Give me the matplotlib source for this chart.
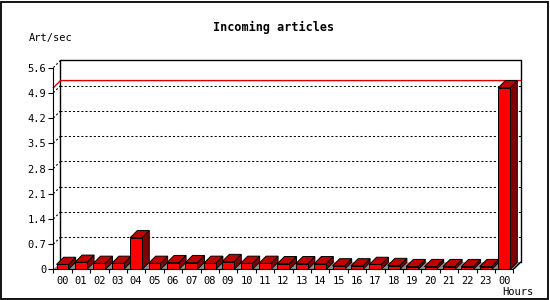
import matplotlib
matplotlib.use("Agg")
import matplotlib.pyplot as plt
from matplotlib.patches import Polygon, Rectangle

hours = ["00", "01", "02", "03", "04", "05", "06", "07", "08", "09", "10", "11",
         "12", "13", "14", "15", "16", "17", "18", "19", "20", "21", "22", "23", "00"]
art_sec = [0.14, 0.20, 0.17, 0.17, 0.88, 0.17, 0.19, 0.19, 0.17, 0.22, 0.17, 0.17,
           0.16, 0.16, 0.16, 0.10, 0.10, 0.14, 0.11, 0.08, 0.08, 0.08, 0.08, 0.08, 5.04]
y_ticks = [0, 0.7, 1.4, 2.1, 2.8, 3.5, 4.2, 4.9, 5.6]

font = "DejaVu Sans Mono"
n = len(hours)
ymax = 5.6
dx, dy = 0.39, 0.2      # depth offset of the 3d look
bw = 0.65               # bar width in slots

fig = plt.figure(figsize=(5.5, 3), dpi=100)
fig.patches.append(Rectangle((0.001, 0.003), 0.995, 0.992, transform=fig.transFigure,
                             fill=False, edgecolor="black", linewidth=1.3))
ax = fig.add_axes([0.0969, 0.1017, 0.8495, 0.697])
ax.set_xlim(0, n + dx)
ax.set_ylim(0, ymax + dy)
ax.patch.set_alpha(0)

# back wall
ax.plot([dx, dx, n + dx, n + dx], [dy, ymax + dy, ymax + dy, dy], color="black", lw=1, clip_on=False, zorder=1)
for v in y_ticks[1:-1]:
    ax.plot([dx, n + dx], [v + dy, v + dy], color="black", lw=0.75, ls=(0, (2, 2)), zorder=1)
for v in y_ticks[1:]:
    ax.plot([0, dx], [v, v + dy], color="black", lw=0.75, ls=(0, (2, 2)), zorder=1, clip_on=False)

# max line
m = max(art_sec)
ax.plot([0, dx, n + dx], [m, m + dy, m + dy], color="#e00000", lw=1, zorder=1.5, clip_on=False)

# floor
ax.add_patch(Polygon([(0, 0), (n, 0), (n + dx, dy), (dx, dy)], closed=True,
                     facecolor="#8c8c8c", edgecolor="none", zorder=2))
ax.plot([n, n + dx], [0, dy], color="black", lw=1, zorder=2.1)

# bars
for i, h in enumerate(art_sec):
    x0 = i + 0.5 - bw / 2
    x1 = x0 + bw
    z = 3 + i * 0.01
    ax.add_patch(Polygon([(x1, 0), (x1 + dx, dy), (x1 + dx, h + dy), (x1, h)], closed=True,
                         facecolor="#800000", edgecolor="black", lw=0.7, zorder=z))
    ax.add_patch(Polygon([(x0, h), (x1, h), (x1 + dx, h + dy), (x0 + dx, h + dy)], closed=True,
                         facecolor="#c00000", edgecolor="black", lw=0.7, zorder=z))
    ax.add_patch(Rectangle((x0, 0), bw, h, facecolor="#ff0000", edgecolor="black", lw=0.7, zorder=z + 0.005))

for s in ["top", "right"]:
    ax.spines[s].set_visible(False)
ax.spines["left"].set_bounds(0, ymax)
ax.spines["bottom"].set_bounds(0, n)
ax.spines["left"].set_zorder(5)
ax.spines["bottom"].set_zorder(5)

ax.set_yticks(y_ticks)
ax.set_yticklabels([("%g" % v) for v in y_ticks], fontfamily=font, fontsize=7.5)
ax.tick_params(axis="y", length=3.6, width=0.8, pad=1.5)

ax.set_xticks(range(n + 1))
ax.set_xticklabels([])
ax.set_xticks([i + 0.5 for i in range(n)], minor=True)
ax.set_xticklabels(hours, minor=True, fontfamily=font, fontsize=7.5)
ax.tick_params(axis="x", which="major", length=2.9, width=0.8)
ax.tick_params(axis="x", which="minor", length=0, pad=4.5)

fig.text(0.497, 0.907, "Incoming articles", ha="center", va="center", fontfamily=font,
         fontsize=8.5, fontweight="bold")
fig.text(0.053, 0.872, "Art/sec", ha="left", va="center", fontfamily=font, fontsize=7.5)
fig.text(0.97, 0.027, "Hours", ha="right", va="center", fontfamily=font, fontsize=7.5)

fig.savefig("out.png", dpi=100)
